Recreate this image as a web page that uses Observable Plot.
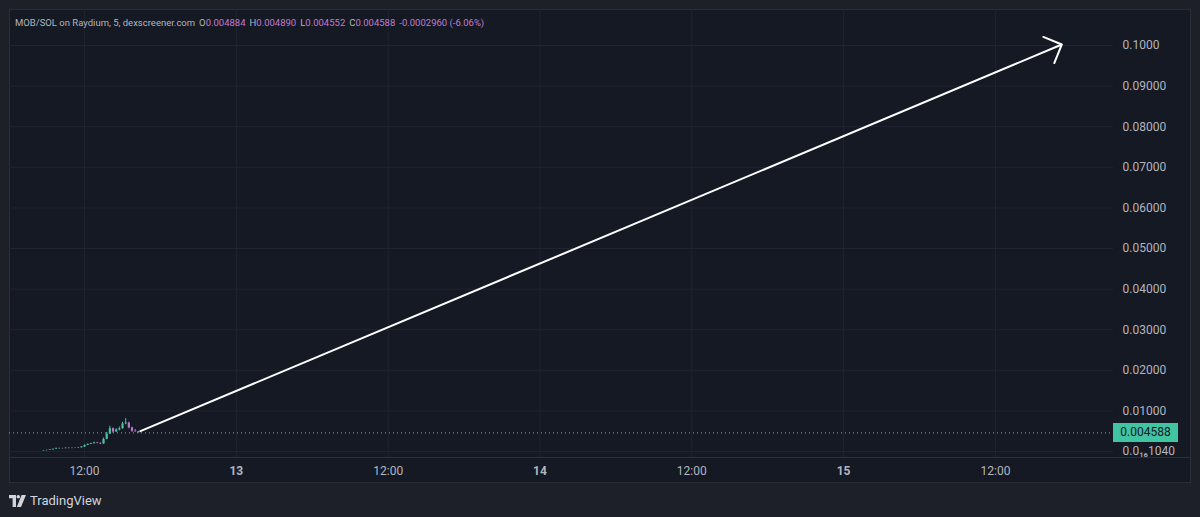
<!DOCTYPE html>
<html><head><meta charset="utf-8">
<script src="https://cdn.jsdelivr.net/npm/d3@7"></script>
<script src="https://cdn.jsdelivr.net/npm/@observablehq/plot@0.6"></script>
<style>
html,body{margin:0;padding:0;background:#1e2029;width:1200px;height:517px;overflow:hidden;}
#wrap{position:relative;width:1200px;height:517px;}
#panel{position:absolute;left:9px;top:9px;width:1180px;height:472px;background:#151924;border:1px solid #2a2e39;}
#sep{position:absolute;left:10px;top:457px;width:1180px;height:1px;background:#2a2e39;}
#chart{position:absolute;left:0;top:0;}
#header{position:absolute;left:15px;top:17px;font:9.5px Roboto,"Liberation Sans",sans-serif;color:#b2b5be;white-space:pre;}
#header .seg{margin-left:4px;}
#header .v{color:#c27ad0;}
#pricebox{position:absolute;left:1113px;width:65px;height:19px;background:#40c4a2;color:#131722;font:12px Roboto,"Liberation Sans",sans-serif;line-height:19px;text-align:center;}
#logo{position:absolute;left:9px;top:493px;display:flex;align-items:center;gap:4px;color:#d1d4dc;font:13px Roboto,"Liberation Sans",sans-serif;}
</style></head><body>
<div id="wrap">
<div id="panel"></div>
<div id="sep"></div>
<div id="chart"></div>
<div id="header"></div>
<div id="pricebox"></div>
<div id="logo"><svg width="17" height="12" viewBox="0 0 17 12"><path d="M0 0h7v12H3.6V3.3H0z" fill="#d1d4dc"/><circle cx="9.3" cy="1.8" r="1.8" fill="#d1d4dc"/><path d="M12.6 0H17L12 12H7.8z" fill="#d1d4dc"/></svg><span>TradingView</span></div>
</div>
<script>
// ---- data ----
const pairTitle = "MOB/SOL on Raydium, 5, dexscreener.com";
const legendLabels = ["O", "H", "L", "C"];
const legendValues = ["0.004884", "0.004890", "0.004552", "0.004588"];
const legendChange = "-0.0002960 (-6.06%)";

const candleTime = ["08:45","09:00","09:15","09:30","09:45","10:00","10:15","10:30","10:45","11:00","11:15","11:30","11:45","12:00","12:15","12:30","12:45","13:00","13:15","13:30","13:45","14:00","14:15","14:30","14:45","15:00","15:15","15:30","15:45","16:00","16:15"];
const candleOpen  = [0.00012,0.00020,0.00028,0.00040,0.00055,0.00068,0.00075,0.00070,0.00080,0.00072,0.00078,0.00082,0.00090,0.00110,0.00150,0.00175,0.00190,0.00210,0.00200,0.00185,0.00300,0.00430,0.00560,0.00480,0.00530,0.00560,0.00680,0.00700,0.00580,0.00500,0.004884];
const candleHigh  = [0.00022,0.00030,0.00044,0.00060,0.00085,0.00082,0.00078,0.00086,0.00082,0.00084,0.00088,0.00096,0.00120,0.00160,0.00185,0.00205,0.00230,0.00225,0.00210,0.00330,0.00470,0.00620,0.00580,0.00560,0.00600,0.00720,0.00810,0.00720,0.00600,0.00540,0.00489];
const candleLow   = [0.00010,0.00018,0.00026,0.00038,0.00052,0.00064,0.00066,0.00068,0.00068,0.00070,0.00076,0.00080,0.00088,0.00106,0.00145,0.00170,0.00185,0.00190,0.00170,0.00180,0.00290,0.00420,0.00450,0.00470,0.00510,0.00550,0.00660,0.00560,0.00470,0.00470,0.004552];
const candleClose = [0.00020,0.00028,0.00040,0.00055,0.00068,0.00075,0.00070,0.00080,0.00072,0.00078,0.00082,0.00090,0.00110,0.00150,0.00175,0.00190,0.00210,0.00200,0.00185,0.00300,0.00430,0.00560,0.00480,0.00530,0.00560,0.00680,0.00700,0.00580,0.00500,0.00488,0.004588];
const candleDay = "2024-03-12";

const lastPrice = 0.004588;
const arrowStartTime = "2024-03-12T16:25Z";
const arrowStartPrice = 0.0050;
const arrowEndTime = "2024-03-15T17:15Z";
const arrowEndPrice = 0.10025;

const yTickValues = [0, 0.01, 0.02, 0.03, 0.04, 0.05, 0.06, 0.07, 0.08, 0.09, 0.1];
const yTickLabels = ["0.0₁₆1040", "0.01000", "0.02000", "0.03000", "0.04000", "0.05000", "0.06000", "0.07000", "0.08000", "0.09000", "0.1000"];
const xHourTicks = ["2024-03-12T12:00Z", "2024-03-13T12:00Z", "2024-03-14T12:00Z", "2024-03-15T12:00Z"];
const xHourLabel = "12:00";
const xDayTicks = ["2024-03-13T00:00Z", "2024-03-14T00:00Z", "2024-03-15T00:00Z"];
const xDayLabels = ["13", "14", "15"];
const xDomain = ["2024-03-12T06:04Z", "2024-03-15T21:20Z"];
const yDomain = [-0.00148, 0.10887];

// ---- build ----
const upColor = "#52bfa9", downColor = "#b77bc9";
const candles = candleTime.map((t, i) => ({
  t: new Date(`${candleDay}T${t}Z`), o: candleOpen[i], h: candleHigh[i], l: candleLow[i], c: candleClose[i]
}));
const arrows = [{x1: new Date(arrowStartTime), y1: arrowStartPrice, x2: new Date(arrowEndTime), y2: arrowEndPrice}];
const hourTicks = xHourTicks.map(d => new Date(d));
const dayTicks = xDayTicks.map(d => new Date(d));
const allX = [...hourTicks, ...dayTicks];
const yLabelMap = new Map(yTickValues.map((v, i) => [v, yTickLabels[i]]));
const dayLabelMap = new Map(dayTicks.map((d, i) => [+d, xDayLabels[i]]));
const gridColor = "#20242f";
const font = "Roboto, 'Liberation Sans', sans-serif";

const chart = Plot.plot({
  width: 1200, height: 517,
  marginLeft: 9, marginRight: 87, marginTop: 9, marginBottom: 60,
  style: {background: "transparent", color: "#b2b5be", fontFamily: font, fontSize: "12px"},
  x: {type: "utc", domain: xDomain.map(d => new Date(d))},
  y: {domain: yDomain},
  color: {type: "identity"},
  marks: [
    Plot.gridX(allX, {stroke: gridColor, strokeOpacity: 1}),
    Plot.gridY(yTickValues, {stroke: gridColor, strokeOpacity: 1}),
    Plot.ruleY([lastPrice], {stroke: "#40c4a2", strokeDasharray: "1,3", strokeWidth: 1}),
    Plot.ruleX(candles, {x: "t", y1: "l", y2: "h", stroke: d => d.c >= d.o ? upColor : downColor, strokeWidth: 1}),
    Plot.ruleX(candles, {x: "t", y1: "o", y2: "c", stroke: d => d.c >= d.o ? upColor : downColor, strokeWidth: 2.2}),
    Plot.arrow(arrows, {x1: "x1", y1: "y1", x2: "x2", y2: "y2", stroke: "#ffffff", strokeWidth: 2, headLength: 15, headAngle: 90}),
    Plot.axisY(yTickValues, {anchor: "right", tickSize: 0, tickPadding: 9, tickFormat: v => yLabelMap.get(v), fill: "#b2b5be", fontSize: 12}),
    Plot.axisX(hourTicks, {anchor: "bottom", tickSize: 0, tickPadding: 9, tickFormat: () => xHourLabel, fill: "#b2b5be", fontSize: 12}),
    Plot.axisX(dayTicks, {anchor: "bottom", tickSize: 0, tickPadding: 9, tickFormat: d => dayLabelMap.get(+d), fill: "#b2b5be", fontSize: 12, fontWeight: "bold"})
  ]
});
document.getElementById("chart").appendChild(chart);

// header legend
const header = document.getElementById("header");
let html = `<span>${pairTitle}</span>`;
legendLabels.forEach((l, i) => { html += `<span class="seg">${l}<span class="v">${legendValues[i]}</span></span>`; });
html += `<span class="seg v">${legendChange}</span>`;
header.innerHTML = html;

// last price label on the price scale
const py = chart.scale("y").apply(lastPrice);
const box = document.getElementById("pricebox");
box.style.top = (py - 9.5) + "px";
box.textContent = legendValues[3];
</script>
</body></html>
